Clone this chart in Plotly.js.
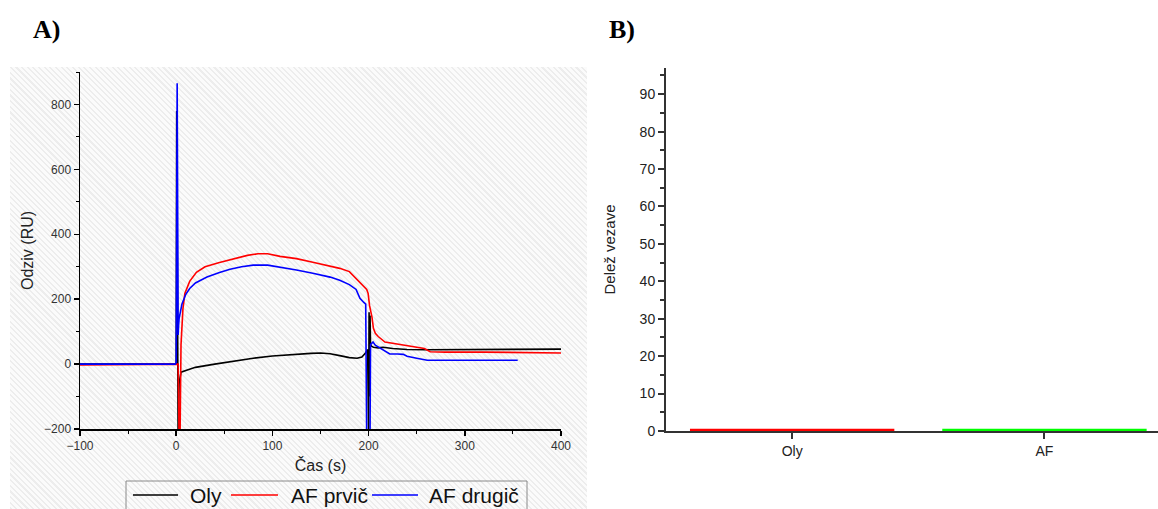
<!DOCTYPE html>
<html>
<head>
<meta charset="utf-8">
<script src="https://cdn.plot.ly/plotly-3.0.1.min.js"></script>
<style>
  html, body { margin: 0; padding: 0; background: #ffffff; }
  #wrap { position: relative; width: 1158px; height: 509px; overflow: hidden; }
  #hatch { position: absolute; left: 10px; top: 67px; width: 577px; height: 442px;
    background: repeating-linear-gradient(45deg, #ededed 0px, #ededed 1.5px, #fbfbfb 1.5px, #fbfbfb 4px); }
  #chart { position: absolute; left: 0; top: 0; width: 1158px; height: 509px; }
</style>
</head>
<body>
<div id="wrap"><div id="hatch"></div><div id="chart"></div></div>
<script>
// ---- Panel A data ----
const olyT = [-100, -50, -10, -1, 0, 0.5, 1, 1.5, 2, 3, 5, 10, 20, 40, 60, 80, 100, 120, 140, 150, 160, 170, 180, 188, 193, 197, 199, 200, 200.5, 201, 201.5, 202, 203, 205, 210, 215, 225, 240, 260, 300, 350, 400];
const olyR = [0, 0, 0, 0, 0, 780, 300, -220, -220, -60, -25, -20, -10, 0, 10, 18, 25, 30, 33, 34, 32, 26, 20, 18, 22, 35, 45, -220, 160, -100, 150, 60, 55, 52, 50, 52, 48, 45, 44, 45, 45, 46];

const prvicT = [-100, -50, -10, 0, 2, 3, 4, 5, 6, 7, 9, 14, 21, 30, 45, 60, 74, 85, 95, 108, 125, 142, 160, 170, 180, 189, 195, 198, 199.5, 201, 203.5, 205, 207, 210, 217, 225, 235, 250, 258, 264, 280, 320, 360, 400];
const prvicR = [-3, -2, 0, 0, 0, -220, -220, 60, 130, 170, 218, 255, 283, 300, 313, 325, 335, 340, 340, 332, 325, 314, 302, 295, 285, 258, 240, 230, 218, 180, 145, 110, 95, 85, 68, 64, 58, 52, 48, 38, 37, 37, 36, 34];

const drugicT = [-100, -50, -10, -1, 0, 0.5, 1, 1.5, 2, 2.5, 3, 4, 6, 10, 14, 20, 32, 45, 56, 68, 80, 95, 108, 125, 142, 160, 170, 180, 187, 191, 195, 197, 198, 201.5, 202, 204.6, 207, 212, 218, 222, 230, 236, 240, 245, 250, 261, 280, 300, 330, 355];
const drugicR = [0, 0, 0, 0, 5, 400, 865, 500, 90, 120, 140, 160, 185, 215, 233, 250, 268, 282, 292, 300, 305, 305, 299, 290, 280, 268, 258, 245, 230, 203, 190, 185, -220, -220, 60, 68, 58, 49, 40, 31, 31, 30, 24, 22, 18, 12, 12, 12, 12, 12];

const seriesNames = ["Oly", "AF prvič", "AF drugič"];
const seriesColors = ["#000000", "#ff0000", "#0000ff"];

// ---- Panel B data ----
const barCats = ["Oly", "AF"];
const barVals = [0.6, 0.6];
const barColors = ["#ff0000", "#00ff00"];

const W = 1158, H = 509;
const fx = px => px / W;
const fy = py => 1 - py / H;
const FONT = 'Liberation Sans, Arial, sans-serif';

const lineW = 1.6;
const seriesT = [olyT, prvicT, drugicT];
const seriesR = [olyR, prvicR, drugicR];
const traces = seriesT.map((t, i) => ({
  x: t, y: seriesR[i], type: 'scatter', mode: 'lines', name: seriesNames[i],
  line: {color: seriesColors[i], width: lineW}, xaxis: 'x', yaxis: 'y', showlegend: false
}));
traces.push({x: barCats, y: barVals, type: 'bar', marker: {color: barColors, line: {width: 0}}, width: 0.81, showlegend: false, xaxis: 'x2', yaxis: 'y2'});

// custom legend (box, sample lines, labels)
const legY = 495;
const legLineX = [[133, 178], [231, 278], [372, 418]];
const legTextX = [188, 289, 427];
const shapes = [
  {type: 'rect', xref: 'paper', yref: 'paper', x0: fx(126), x1: fx(527), y0: fy(512), y1: fy(481),
   line: {color: '#8a8a8a', width: 1}, fillcolor: 'rgba(0,0,0,0)'}
];
const annotations = [
  {text: '<b>A)</b>', x: fx(31), y: fy(30), xref: 'paper', yref: 'paper', xanchor: 'left', yanchor: 'middle', showarrow: false,
   font: {family: 'Liberation Serif, Times New Roman, serif', size: 26, color: '#000'}},
  {text: '<b>B)</b>', x: fx(607), y: fy(30), xref: 'paper', yref: 'paper', xanchor: 'left', yanchor: 'middle', showarrow: false,
   font: {family: 'Liberation Serif, Times New Roman, serif', size: 26, color: '#000'}}
];
seriesNames.forEach((n, i) => {
  shapes.push({type: 'line', xref: 'paper', yref: 'paper', x0: fx(legLineX[i][0]), x1: fx(legLineX[i][1]), y0: fy(legY), y1: fy(legY),
    line: {color: seriesColors[i], width: 1.6}});
  annotations.push({text: n, x: fx(legTextX[i]), y: fy(legY), xref: 'paper', yref: 'paper', xanchor: 'left', yanchor: 'middle',
    showarrow: false, font: {family: FONT, size: 21, color: '#111'}});
});

const leftTick = {family: FONT, size: 12, color: '#333333'};
const rightTick = {family: FONT, size: 14, color: '#222222'};

const layout = {
  width: W, height: H,
  margin: {l: 0, r: 0, t: 0, b: 0},
  paper_bgcolor: 'rgba(0,0,0,0)',
  plot_bgcolor: 'rgba(0,0,0,0)',
  font: {family: FONT, color: '#222'},
  showlegend: false,
  xaxis: {
    domain: [fx(80), fx(561)], range: [-100, 400], anchor: 'y', automargin: false,
    showline: true, linecolor: '#000', linewidth: 1.5, showgrid: false, zeroline: false,
    ticks: 'outside', ticklen: 5, tickwidth: 1.5, tickcolor: '#000', dtick: 100, tick0: 0,
    minor: {ticks: 'outside', ticklen: 3, dtick: 50, tickcolor: '#000', tickwidth: 1},
    tickfont: leftTick,
    title: {text: 'Čas (s)', font: {family: FONT, size: 16, color: '#222'}, standoff: 8}
  },
  yaxis: {
    domain: [fy(429), fy(72)], range: [-200, 900], anchor: 'x', automargin: false,
    showline: true, linecolor: '#000', linewidth: 1.5, showgrid: false, zeroline: false,
    ticks: 'outside', ticklen: 5, tickwidth: 1.5, tickcolor: '#000', dtick: 200, tick0: 0,
    minor: {ticks: 'outside', ticklen: 3, dtick: 100, tickcolor: '#000', tickwidth: 1},
    tickfont: leftTick,
    title: {text: 'Odziv (RU)', font: {family: FONT, size: 16, color: '#222'}, standoff: 6}
  },
  xaxis2: {
    domain: [fx(666), 1], range: [-0.5, 1.45], anchor: 'y2', type: 'category', automargin: false,
    showline: true, linecolor: '#333', linewidth: 2, showgrid: false, zeroline: false,
    ticks: 'outside', ticklen: 6, tickwidth: 2, tickcolor: '#333',
    tickfont: rightTick
  },
  yaxis2: {
    domain: [fy(431), fy(68)], range: [0, 97], anchor: 'x2', automargin: false,
    showline: true, linecolor: '#333', linewidth: 2, showgrid: false, zeroline: false,
    ticks: 'outside', ticklen: 6, tickwidth: 2, tickcolor: '#333', dtick: 10, tick0: 0,
    minor: {ticks: 'outside', ticklen: 4, dtick: 5, tickcolor: '#333', tickwidth: 2},
    tickfont: rightTick,
    title: {text: 'Delež vezave', font: {family: FONT, size: 15, color: '#222'}, standoff: 20}
  },
  shapes: shapes,
  annotations: annotations
};

Plotly.newPlot('chart', traces, layout, {displayModeBar: false, staticPlot: true});
</script>
</body>
</html>
